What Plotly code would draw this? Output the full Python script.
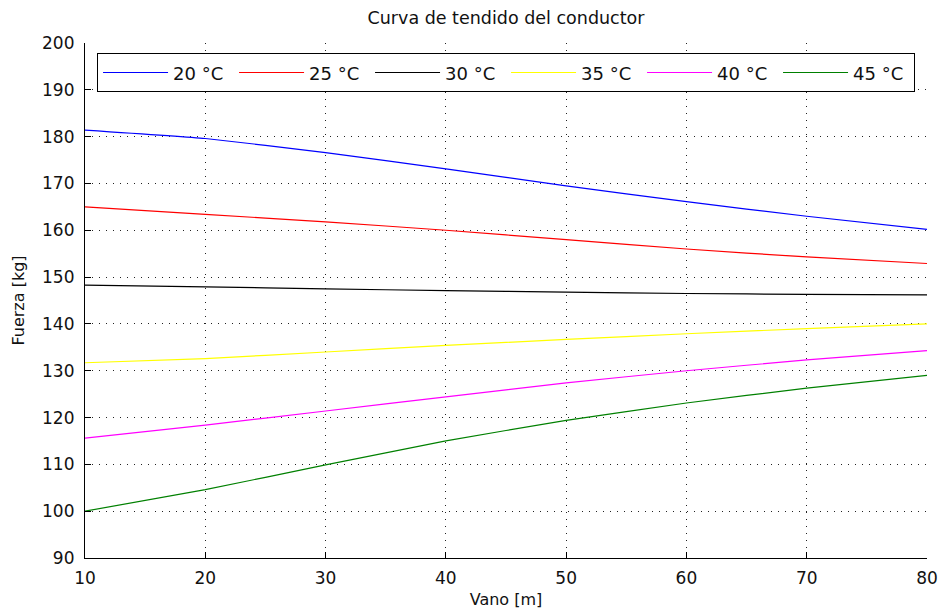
import plotly.graph_objects as go

# Span (m) at which each tension curve is sampled
vano = [10, 20, 30, 40, 50, 60, 70, 80]

# Conductor tension (kg) per temperature
f_20 = [181.4, 179.6, 176.6, 173.1, 169.5, 166.1, 163.0, 160.2]
f_25 = [165.0, 163.4, 161.8, 160.0, 158.0, 156.0, 154.3, 152.9]
f_30 = [148.3, 147.9, 147.5, 147.1, 146.8, 146.5, 146.3, 146.2]
f_35 = [131.7, 132.6, 134.0, 135.4, 136.7, 137.9, 139.0, 140.0]
f_40 = [115.6, 118.4, 121.4, 124.4, 127.4, 130.0, 132.3, 134.3]
f_45 = [100.0, 104.6, 109.9, 115.0, 119.4, 123.1, 126.3, 129.0]

nombres = ["20 °C", "25 °C", "30 °C", "35 °C", "40 °C", "45 °C"]
series = [f_20, f_25, f_30, f_35, f_40, f_45]
colores = ["#0000FF", "#FF0000", "#000000", "#FFFF00", "#FF00FF", "#008000"]

x_ticks = [10, 20, 30, 40, 50, 60, 70, 80]
y_ticks = [90, 100, 110, 120, 130, 140, 150, 160, 170, 180, 190, 200]

FONT = "DejaVu Sans"

fig = go.Figure()
for nombre, valores, color in zip(nombres, series, colores):
    fig.add_trace(go.Scatter(
        x=vano, y=valores, name=nombre, mode="lines",
        line=dict(color=color, width=1.2, shape="spline", smoothing=0.4),
    ))

eje = dict(
    showline=True, linecolor="#000000", linewidth=1.2, mirror=False,
    ticks="inside", ticklen=6, tickcolor="#000000", tickwidth=1.2,
    showgrid=True, gridcolor="#222222", gridwidth=1, griddash="1px,6px",
    zeroline=False, automargin=False,
    tickfont=dict(family=FONT, size=17, color="#111111"),
)

fig.update_xaxes(
    range=[10, 80], tickvals=x_ticks, ticktext=[str(v) for v in x_ticks],
    title=dict(text="Vano [m]", font=dict(family=FONT, size=16, color="#111111"), standoff=7),
    ticklabelstandoff=4,
    **eje,
)
fig.update_yaxes(
    range=[90, 200], tickvals=y_ticks, ticktext=[str(v) for v in y_ticks],
    title=dict(text="Fuerza [kg]", font=dict(family=FONT, size=16, color="#111111"), standoff=13),
    ticklabelstandoff=6,
    **eje,
)

fig.update_layout(
    width=942, height=613,
    margin=dict(l=85, r=15, t=43, b=55),
    paper_bgcolor="#FFFFFF", plot_bgcolor="#FFFFFF",
    title=dict(
        text="Curva de tendido del conductor",
        font=dict(family=FONT, size=17.5, color="#111111"),
        x=0.5, xref="paper", xanchor="center",
        y=1 - 18 / 613, yref="container", yanchor="middle",
    ),
    legend=dict(
        orientation="h", x=0.0143, y=0.98, xanchor="left", yanchor="top",
        bgcolor="#FFFFFF", bordercolor="#000000", borderwidth=1,
        font=dict(family=FONT, size=18, color="#111111"),
        entrywidth=56, entrywidthmode="pixels",
        itemwidth=65,
    ),
    showlegend=True,
)

fig.write_html("out.html")
